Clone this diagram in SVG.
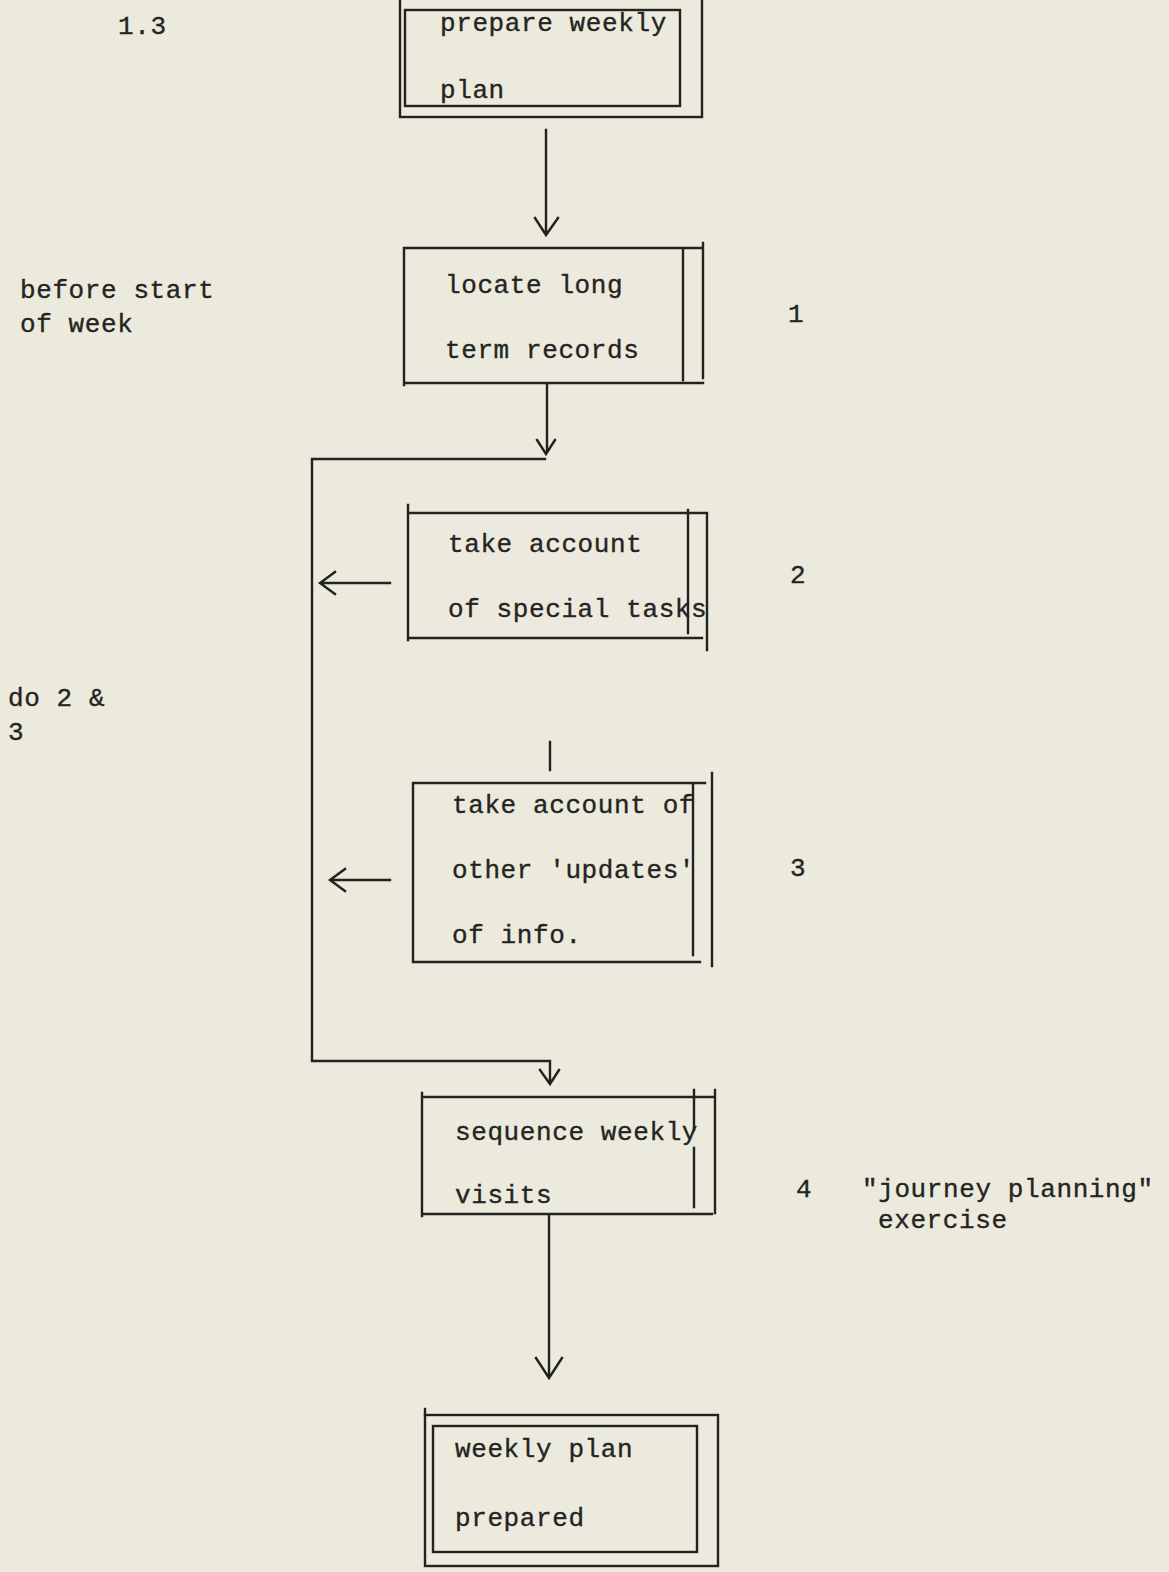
<svg xmlns="http://www.w3.org/2000/svg" width="1169" height="1572" viewBox="0 0 1169 1572">
<style>
text{font-family:"Liberation Mono","DejaVu Sans Mono",monospace;font-size:26px;letter-spacing:0.6px;fill:#242422;stroke:#242422;stroke-width:0.35}
.l{fill:none;stroke:#222220;stroke-width:2.4;stroke-linecap:square}
</style>
<rect width="1169" height="1572" fill="#ebeadd"/>
<g id="labels">
<text x="118" y="34">1.3</text>
<text x="20" y="298">before start</text>
<text x="20" y="332">of week</text>
<text x="788" y="322">1</text>
<text x="790" y="583">2</text>
<text x="8" y="706">do 2 &amp;</text>
<text x="8" y="740">3</text>
<text x="790" y="876">3</text>
<text x="796" y="1197">4</text>
<text x="862" y="1197">"journey planning"</text>
<text x="878" y="1228">exercise</text>
</g>
<g id="node-1">
<rect class="l" x="400" y="-4" width="302" height="121"/>
<rect class="l" x="405" y="10" width="275" height="96"/>
<text x="440" y="31">prepare weekly</text>
<text x="440" y="98">plan</text>
</g>
<g id="node-2">
<path class="l" d="M404 248H703M404 248V385M404 383H703M683 248V380M703 243V378"/>
<text x="445" y="293">locate long</text>
<text x="445" y="358">term records</text>
</g>
<g id="node-3">
<path class="l" d="M408 505V640M408 513H705M408 638H702M688 510V633M707 513V650"/>
<text x="448" y="552">take account</text>
<text x="448" y="617">of special tasks</text>
</g>
<g id="node-4">
<path class="l" d="M413 783V962M413 783H705M413 962H700M693 783V955M712 773V966"/>
<text x="452" y="813">take account of</text>
<text x="452" y="878">other 'updates'</text>
<text x="452" y="943">of info.</text>
</g>
<g id="node-5">
<path class="l" d="M422 1093V1216M422 1097H715M422 1214H712M694 1090V1130M694 1148V1207M715 1090V1213"/>
<text x="455" y="1140">sequence weekly</text>
<text x="455" y="1203">visits</text>
</g>
<g id="node-6">
<rect class="l" x="425" y="1415" width="293" height="151"/>
<path class="l" d="M425 1409V1415"/>
<rect class="l" x="433" y="1426" width="264" height="126"/>
<text x="455" y="1457">weekly plan</text>
<text x="455" y="1526">prepared</text>
</g>
<g id="connectors">
<path class="l" d="M546 130V234M535 218L546 235L558 218"/>
<path class="l" d="M547 385V452M537 440L546 454L555 440"/>
<path class="l" d="M312 459H545M312 459V1061H550V1082M540 1070L550 1084L559 1070"/>
<path class="l" d="M390 583H321M335 572L320 583L335 594"/>
<path class="l" d="M390 880H331M345 869L330 880L345 891"/>
<path class="l" d="M550 742V770"/>
<path class="l" d="M549 1216V1376M536 1358L549 1378L562 1358"/>
</g>
</svg>
